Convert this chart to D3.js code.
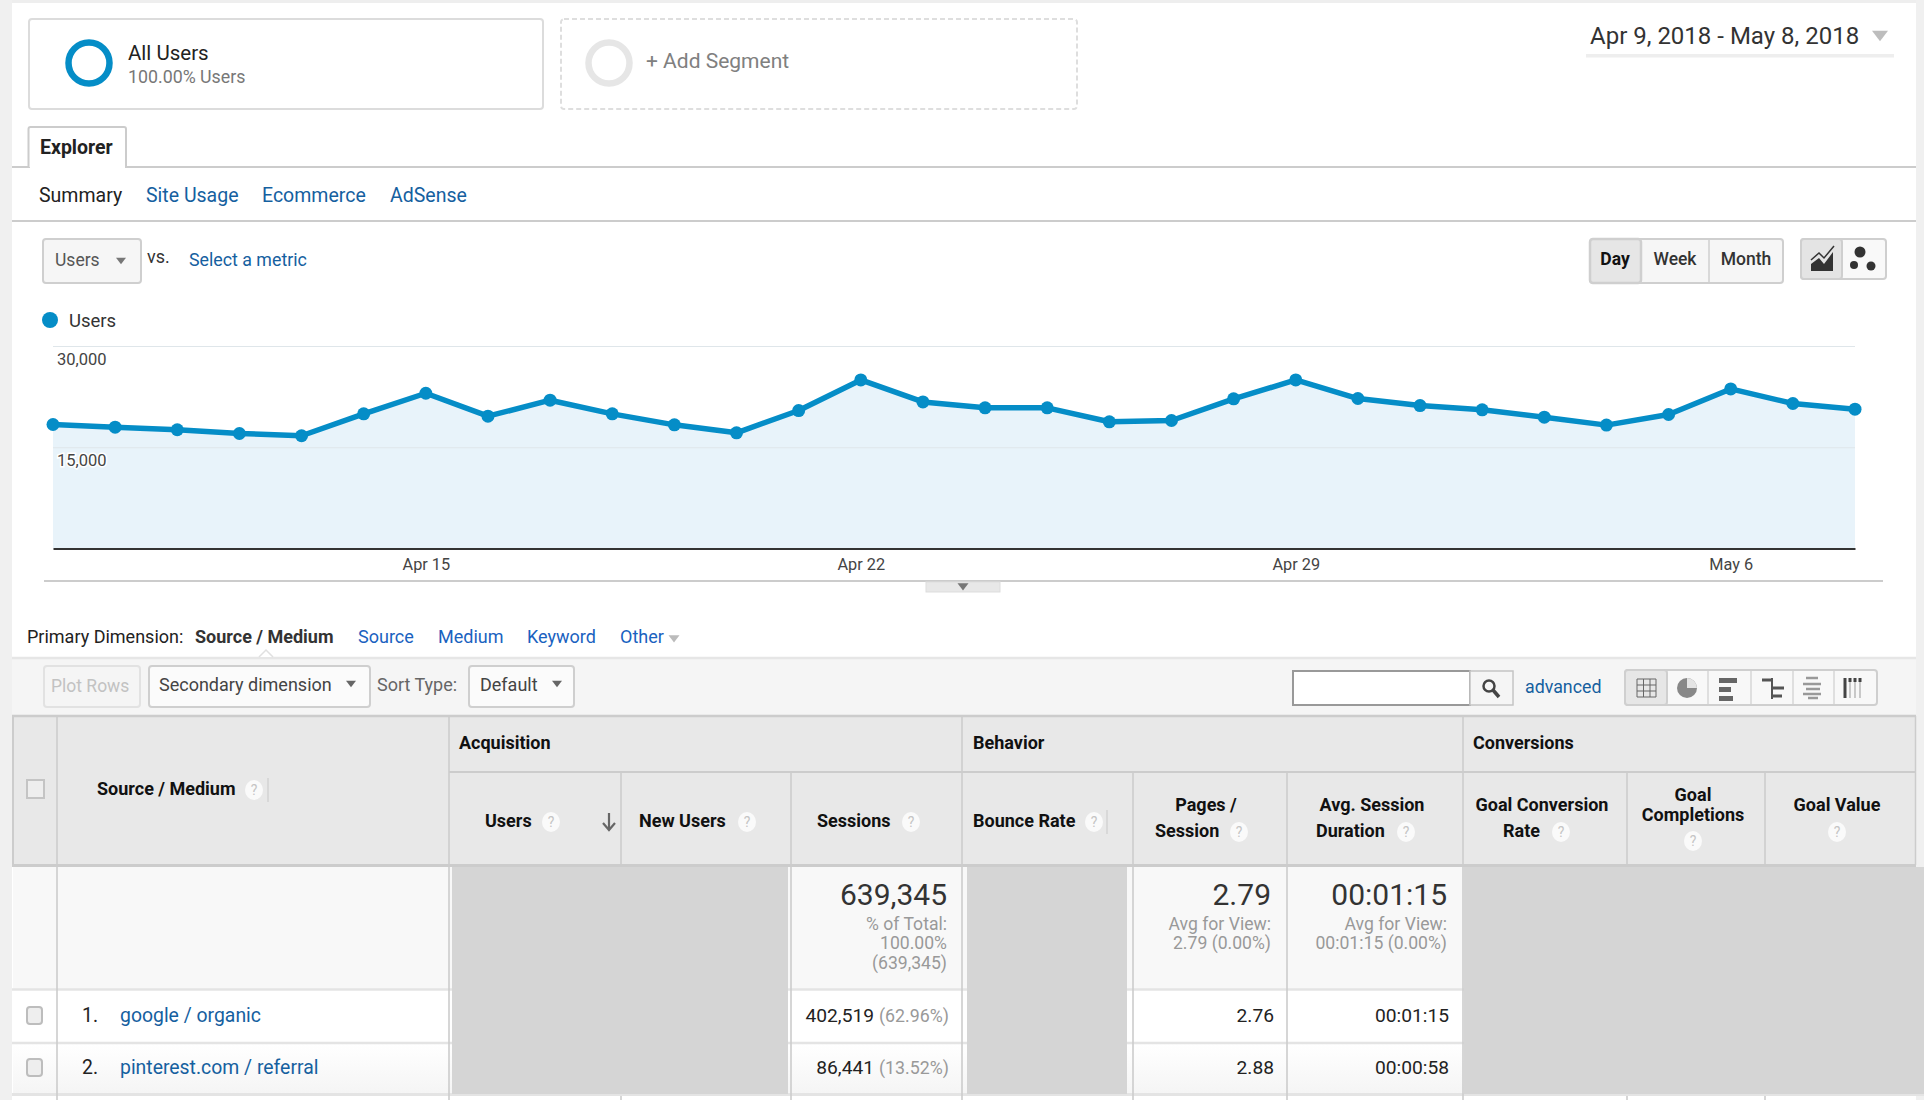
<!DOCTYPE html>
<html>
<head>
<meta charset="utf-8">
<title>Source / Medium</title>
<script src="https://cdn.jsdelivr.net/npm/d3@7"></script>
<style>
	html, body { margin: 0; padding: 0; background: #fff; overflow: hidden; }
	svg { display: block; font-family: Roboto, sans-serif; }
</style>
</head>
<body>
<svg id="page" width="1924" height="1100"></svg>
<script>
// chart values
var days = ["2018-04-09","2018-04-10","2018-04-11","2018-04-12","2018-04-13","2018-04-14","2018-04-15",
	"2018-04-16","2018-04-17","2018-04-18","2018-04-19","2018-04-20","2018-04-21","2018-04-22",
	"2018-04-23","2018-04-24","2018-04-25","2018-04-26","2018-04-27","2018-04-28","2018-04-29",
	"2018-04-30","2018-05-01","2018-05-02","2018-05-03","2018-05-04","2018-05-05","2018-05-06",
	"2018-05-07","2018-05-08"];
var users = [18370,17980,17590,17040,16700,19950,23000,19600,21970,19950,18320,17140,20440,24970,
	21720,20840,20840,18770,18960,22170,24970,22220,21180,20540,19460,18280,19850,23640,21480,20640];
var yTicks = [15000, 30000];
var xTicks = ["2018-04-15","2018-04-22","2018-04-29","2018-05-06"];

var subTabs = ["Site Usage","Ecommerce","AdSense"];
var dimensions = ["Source","Medium","Keyword","Other"];
var rowNames = ["google / organic","pinterest.com / referral"];
var rowSessions = ["402,519","86,441"];
var rowShares = ["(62.96%)","(13.52%)"];
var rowPages = ["2.76","2.88"];
var rowDurations = ["00:01:15","00:00:58"];
var intervals = ["Day","Week","Month"];

var svg = d3.select("#page");
var defs = svg.append("defs");
var blue = "#058dc7", link = "#15609f", linkBright = "#1a62c0";

var fade = defs.append("linearGradient").attr("id","rowFade").attr("x1",0).attr("y1",0).attr("x2",0).attr("y2",1);
fade.append("stop").attr("offset","0%").attr("stop-color","#fff");
fade.append("stop").attr("offset","100%").attr("stop-color","#f5f5f5");

// small helpers for the surrounding interface
function label(x, y, text, size, color, weight, anchor) {
	return svg.append("text")
		.attr("x", x).attr("y", y)
		.attr("font-size", size)
		.attr("fill", color || "#333")
		.attr("font-weight", weight || 400)
		.attr("text-anchor", anchor || "start")
		.text(text);
}

function box(x, y, w, h, fill, stroke, sw, r) {
	return svg.append("rect")
		.attr("x", x).attr("y", y).attr("width", w).attr("height", h)
		.attr("fill", fill || "none")
		.attr("stroke", stroke || "none")
		.attr("stroke-width", sw || 0)
		.attr("rx", r || 0);
}

function hline(x1, x2, y, color, sw) {
	svg.append("line").attr("x1",x1).attr("x2",x2).attr("y1",y).attr("y2",y)
		.attr("stroke",color).attr("stroke-width",sw);
}

function vline(x, y1, y2, color, sw) {
	svg.append("line").attr("x1",x).attr("x2",x).attr("y1",y1).attr("y2",y2)
		.attr("stroke",color).attr("stroke-width",sw);
}

function caret(cx, cy, w, color) {
	svg.append("path")
		.attr("d", "M" + (cx - w/2) + "," + (cy - w/3) + "h" + w + "l" + (-w/2) + "," + (w*0.66) + "z")
		.attr("fill", color);
}

function help(cx, cy) {
	svg.append("ellipse").attr("cx",cx).attr("cy",cy).attr("rx",9).attr("ry",10).attr("fill","#fafafa");
	label(cx, cy + 5, "?", 14, "#c4c4c4", 400, "middle");
}

// page frame
box(0, 0, 1924, 3, "#eeeeee");
box(0, 0, 12, 1100, "#f0f0f0");
box(1916, 0, 8, 1100, "#f0f0f0");

// segments
box(29, 19, 514, 90, "#fff", "#dcdcdc", 2, 3);
box(561, 19, 516, 90, "#fff", "#dedede", 2, 3).attr("stroke-dasharray","5,3");
svg.append("circle").attr("cx",89).attr("cy",63).attr("r",20.5).attr("fill","none").attr("stroke",blue).attr("stroke-width",6.5);
svg.append("circle").attr("cx",609).attr("cy",63).attr("r",20.5).attr("fill","none").attr("stroke","#e6e6e6").attr("stroke-width",6.5);
label(128, 60, "All Users", 20.5, "#222");
label(128, 83, "100.00% Users", 17.8, "#777");
label(646, 68, "+ Add Segment", 21, "#808080");

// date range
label(1590, 44, "Apr 9, 2018 - May 8, 2018", 24, "#333");
caret(1880, 36, 16, "#bdbdbd");
box(1586, 54, 308, 3.5, "#eeeeee");

// tabs
hline(12, 1916, 167, "#cccccc", 2);
hline(12, 1916, 221, "#cccccc", 2);
svg.append("path").attr("d","M28.5,167V129q0,-2 2,-2H124q2,0 2,2V167").attr("fill","#fff").attr("stroke","#cccccc").attr("stroke-width",2);
box(30, 165, 95, 3, "#fff");
label(40, 154, "Explorer", 19.5, "#222", 700);
label(39, 202, "Summary", 19.5, "#222");
var subTabX = [146, 262, 390];
subTabs.forEach(function(d, i) { label(subTabX[i], 202, d, 19.5, link); });

// metric picker
box(43, 239, 98, 44, "#f6f6f6", "#cfcfcf", 2, 3);
label(55, 266, "Users", 17.5, "#555");
caret(121, 261, 10, "#777");
label(147, 263, "vs.", 18, "#333");
label(189, 266, "Select a metric", 17.8, link);

// day / week / month
box(1590, 239, 193, 44, "#f6f6f6", "#cfcfcf", 2, 3);
box(1590, 239, 51, 44, "#e6e6e6", "#cfcfcf", 2.5, 3);
vline(1709, 240, 282, "#cfcfcf", 1.5);
var intervalX = [1615, 1675, 1746];
intervals.forEach(function(d, i) {
	label(intervalX[i], 265, d, 17.5, i === 0 ? "#111" : "#333", i === 0 ? 700 : 500, "middle");
});

// chart type toggle
box(1801, 239, 85, 40, "#f9f9f9", "#cfcfcf", 2, 3);
box(1801, 239, 41, 40, "#e4e4e4", "#cfcfcf", 2, 3);
svg.append("path").attr("d","M1811,271V264L1819,258L1824,264L1833,252V271Z").attr("fill","#333");
svg.append("path").attr("d","M1811,260L1819,253L1824,258L1834,246").attr("fill","none").attr("stroke","#333").attr("stroke-width",1.5);
[[1860,252,5.5],[1854,265,4],[1871,266,4.5]].forEach(function(d) {
	svg.append("circle").attr("cx",d[0]).attr("cy",d[1]).attr("r",d[2]).attr("fill","#333");
});

// legend
svg.append("circle").attr("cx",50).attr("cy",320).attr("r",8).attr("fill",blue);
label(69, 327, "Users", 18.5, "#333");

// the chart
var parseDay = d3.utcParse("%Y-%m-%d");
var series = days.map(function(d, i) { return {day: parseDay(d), users: users[i]}; });

var x = d3.scaleUtc()
	.domain(d3.extent(series, function(d) { return d.day; }))
	.range([53, 1855]);
var y = d3.scaleLinear().domain([0, 30000]).range([548.5, 346]);

var yAxis = d3.axisRight(y)
	.tickValues(yTicks)
	.tickSize(1802)
	.tickFormat(d3.format(","));
var xAxis = d3.axisBottom(x)
	.tickValues(xTicks.map(parseDay))
	.tickSize(0)
	.tickPadding(10)
	.tickFormat(d3.utcFormat("%b %-d"));

var area = d3.area()
	.x(function(d) { return x(d.day); })
	.y0(y(0))
	.y1(function(d) { return y(d.users); });
var line = d3.line()
	.x(function(d) { return x(d.day); })
	.y(function(d) { return y(d.users); });

svg.append("path").datum(series).attr("d", area).attr("fill", "#e8f3fa");

var gy = svg.append("g").attr("transform", "translate(53,0)").call(yAxis);
gy.select(".domain").remove();
gy.selectAll(".tick line").attr("stroke", "#dfe6ea").attr("stroke-width", 1.2);
gy.selectAll(".tick text")
	.attr("x", 4).attr("dy", 18)
	.attr("font-family", "Roboto, sans-serif")
	.attr("font-size", 16.5)
	.attr("fill", "#444")
	.attr("stroke", "#fff").attr("stroke-width", 3)
	.attr("paint-order", "stroke");

svg.append("path").datum(series).attr("d", line)
	.attr("fill", "none").attr("stroke", blue).attr("stroke-width", 5.5).attr("stroke-linejoin", "round");
svg.selectAll("circle.point").data(series).enter().append("circle")
	.attr("class", "point")
	.attr("cx", function(d) { return x(d.day); })
	.attr("cy", function(d) { return y(d.users); })
	.attr("r", 6.5)
	.attr("fill", blue);

var gx = svg.append("g").attr("transform", "translate(0,548.5)").call(xAxis);
gx.select(".domain").attr("stroke", "#333").attr("stroke-width", 2);
gx.selectAll(".tick text")
	.attr("font-family", "Roboto, sans-serif")
	.attr("font-size", 16.3)
	.attr("fill", "#444");

hline(44, 1883, 581, "#cccccc", 2);
box(926, 582, 74, 10, "#e8e8e8", "#dddddd", 1);
caret(963, 587, 11, "#777");

// primary dimension row
label(27, 643, "Primary Dimension:", 18, "#222");
label(195, 643, "Source / Medium", 18, "#333", 700);
var dimensionX = [358, 438, 527, 620];
dimensions.forEach(function(d, i) { label(dimensionX[i], 643, d, 18, linkBright); });
caret(674, 639, 11, "#bbbbbb");

// toolbar
box(12, 658, 1904, 58, "#f5f5f5");
hline(12, 1916, 658, "#e6e6e6", 2.5);
svg.append("path").attr("d","M259,657l7,-7l7,7").attr("fill","#fff").attr("stroke","#e0e0e0").attr("stroke-width",1.5);
box(44, 666, 96, 41, "#f5f5f5", "#e2e2e2", 2, 3);
label(51, 692, "Plot Rows", 17.5, "#c2c2c2");
box(149, 666, 221, 41, "#fbfbfb", "#cfcfcf", 2, 3);
label(159, 691, "Secondary dimension", 18, "#444");
caret(351, 684, 10, "#666");
label(377, 691, "Sort Type:", 18, "#666");
box(469, 666, 105, 41, "#fbfbfb", "#cfcfcf", 2, 3);
label(480, 691, "Default", 18, "#444");
caret(557, 684, 10, "#666");

box(1293, 671, 177, 34, "#fff", "#999", 2);
box(1470, 671, 43, 34, "#f5f5f5", "#c4c4c4", 1.5);
svg.append("circle").attr("cx",1489).attr("cy",686).attr("r",5.5).attr("fill","none").attr("stroke","#444").attr("stroke-width",2.5);
svg.append("line").attr("x1",1493).attr("y1",690).attr("x2",1499).attr("y2",697).attr("stroke","#444").attr("stroke-width",3.5);
label(1525, 693, "advanced", 17.8, link);

box(1625, 670, 252, 35, "#f8f8f8", "#cfcfcf", 2, 3);
box(1625, 670, 42, 35, "#e6e6e6", "#cfcfcf", 2, 3);
[1708, 1751, 1793, 1834].forEach(function(d) { vline(d, 671, 704, "#cfcfcf", 1.2); });
// view icons: grid, pie, bars, delta, pivot, term cloud
[1637,1643.5,1650,1656].forEach(function(d) { vline(d, 679, 697, "#666", 1); });
[679,685,691,697].forEach(function(d) { hline(1637, 1656, d, "#666", 1); });
svg.append("circle").attr("cx",1687).attr("cy",688).attr("r",10).attr("fill","#888");
svg.append("path").attr("d","M1687,688V678A10,10 0 0 1 1697,688Z").attr("fill","#e4e4e4");
[[1719,678,18],[1719,687,12],[1719,696,14]].forEach(function(d) { box(d[0], d[1], d[2], 5, "#666"); });
vline(1772, 678, 699, "#555", 2);
[[1762,680,10],[1772,688,12],[1772,696,10]].forEach(function(d) { hline(d[0], d[0] + d[2], d[1], "#555", 3); });
[[1806,678,12],[1803,684,18],[1806,689,14],[1803,694,18],[1808,698,10]].forEach(function(d) { hline(d[0], d[0] + d[2], d[1], "#999", 2.5); });
[1845,1850,1855,1860].forEach(function(d, i) {
	vline(d, 678, 698, "#999", 1);
	vline(d, 678, i === 0 ? 698 : 682, "#444", 3);
});

// table header
box(13, 716, 1903, 149, "#e8e8e8");
hline(12, 1916, 716, "#cccccc", 2.5);
hline(449, 1916, 772, "#cccccc", 2);
vline(13, 716, 865, "#cccccc", 2);
vline(1915.5, 716, 865, "#cccccc", 1.5);
[57, 449, 962, 1463].forEach(function(d) { vline(d, 716, 865, "#cccccc", 1.6); });
[621, 791, 1133, 1287, 1627, 1765].forEach(function(d) { vline(d, 772, 865, "#cccccc", 1.6); });
box(27, 780, 17, 18, "#eeeeee", "#c4c4c4", 2);

var hs = 18, hc = "#111";
label(97, 795, "Source / Medium", hs, hc, 700);
help(254, 790);
vline(268, 778, 802, "#c8c8c8", 1);
label(459, 749, "Acquisition", hs, hc, 700);
label(973, 749, "Behavior", hs, hc, 700);
label(1473, 749, "Conversions", hs, hc, 700);
label(485, 827, "Users", hs, hc, 700);
help(551, 822);
svg.append("path").attr("d","M609,813V829M603,823L609,830L615,823").attr("fill","none").attr("stroke","#666").attr("stroke-width",2.2);
label(639, 827, "New Users", hs, hc, 700);
help(747, 822);
label(817, 827, "Sessions", hs, hc, 700);
help(911, 822);
label(973, 827, "Bounce Rate", hs, hc, 700);
help(1094, 822);
vline(1107, 810, 834, "#c8c8c8", 1);
label(1206, 811, "Pages /", hs, hc, 700, "middle");
label(1155, 837, "Session", hs, hc, 700);
help(1239, 832);
label(1372, 811, "Avg. Session", hs, hc, 700, "middle");
label(1316, 837, "Duration", hs, hc, 700);
help(1406, 832);
label(1542, 811, "Goal Conversion", hs, hc, 700, "middle");
label(1503, 837, "Rate", hs, hc, 700);
help(1561, 832);
label(1693, 801, "Goal", hs, hc, 700, "middle");
label(1693, 821, "Completions", hs, hc, 700, "middle");
help(1693, 841);
label(1837, 811, "Goal Value", hs, hc, 700, "middle");
help(1837, 832);

// table body
box(13, 867, 1451, 122, "#f8f8f8");
box(13, 990, 1451, 52, "#ffffff");
box(13, 1044, 1451, 49, "url(#rowFade)");
hline(12, 1464, 989.5, "#e4e4e4", 2.5);
hline(12, 1464, 1043, "#e4e4e4", 2.5);
hline(12, 1924, 1094.5, "#e4e4e4", 3);
hline(12, 1916, 865.5, "#cccccc", 3);
[57, 449, 791, 962, 1133, 1287, 1463].forEach(function(d) { vline(d, 866, 1100, "#cccccc", 1.6); });
[621, 1627, 1765].forEach(function(d) { vline(d, 1096, 1100, "#cccccc", 1.6); });

// blocked out columns
box(452, 867, 336, 227, "#d5d5d5");
box(967, 867, 160, 227, "#d5d5d5");
box(1464, 867, 460, 227, "#d5d5d5");

// totals
var subSize = 17.6;
label(947, 905, "639,345", 30, "#333", 400, "end");
label(947, 930, "% of Total:", subSize, "#999", 400, "end");
label(947, 949, "100.00%", subSize, "#999", 400, "end");
label(947, 969, "(639,345)", subSize, "#999", 400, "end");
label(1271, 905, "2.79", 30, "#333", 400, "end");
label(1271, 930, "Avg for View:", subSize, "#999", 400, "end");
label(1271, 949, "2.79 (0.00%)", subSize, "#999", 400, "end");
label(1447, 905, "00:01:15", 30, "#333", 400, "end");
label(1447, 930, "Avg for View:", subSize, "#999", 400, "end");
label(1447, 949, "00:01:15 (0.00%)", subSize, "#999", 400, "end");

// rows
var rowBaseline = [1022, 1074];
rowNames.forEach(function(d, i) {
	var b = rowBaseline[i];
	box(27, b - 15, 15, 17, "#eeeeee", "#bdbdbd", 2, 3);
	label(82, b, (i + 1) + ".", 19.4, "#222");
	label(120, b, d, 19.4, link);
	label(874, b, rowSessions[i], 19.2, "#222", 400, "end");
	label(949, b, rowShares[i], 17.8, "#999", 400, "end");
	label(1274, b, rowPages[i], 19.2, "#222", 400, "end");
	label(1449, b, rowDurations[i], 19.2, "#222", 400, "end");
});
</script>
</body>
</html>
